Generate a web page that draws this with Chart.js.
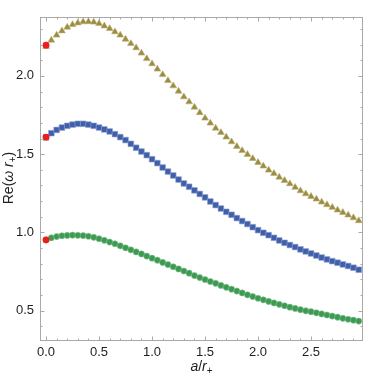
<!DOCTYPE html>
<html>
<head>
<meta charset="utf-8">
<script src="https://cdn.jsdelivr.net/npm/chart.js@4"></script>
<style>
  html, body { margin: 0; padding: 0; background: #fff; }
  #wrap { width: 382px; height: 377px; }
</style>
</head>
<body>
<div id="wrap"><canvas id="qnmChart" width="382" height="377"></canvas></div>
<script>
// a/r+ values of the sampled points
const aValues = [
  0.00, 0.05, 0.10, 0.15, 0.20, 0.25, 0.30, 0.35, 0.40, 0.45,
  0.50, 0.55, 0.60, 0.65, 0.70, 0.75, 0.80, 0.85, 0.90, 0.95,
  1.00, 1.05, 1.10, 1.15, 1.20, 1.25, 1.30, 1.35, 1.40, 1.45,
  1.50, 1.55, 1.60, 1.65, 1.70, 1.75, 1.80, 1.85, 1.90, 1.95,
  2.00, 2.05, 2.10, 2.15, 2.20, 2.25, 2.30, 2.35, 2.40, 2.45,
  2.50, 2.55, 2.60, 2.65, 2.70, 2.75, 2.80, 2.85, 2.90, 2.95
];

// Re(omega r+) for each branch
const triangleValues = [
  2.188, 2.228, 2.260, 2.287, 2.311, 2.327, 2.338, 2.345, 2.346, 2.343,
  2.334, 2.319, 2.302, 2.281, 2.260, 2.234, 2.206, 2.179, 2.145, 2.110,
  2.077, 2.043, 2.008, 1.970, 1.936, 1.902, 1.866, 1.834, 1.800, 1.765,
  1.730, 1.698, 1.666, 1.638, 1.609, 1.579, 1.549, 1.523, 1.498, 1.472,
  1.447, 1.424, 1.398, 1.377, 1.353, 1.332, 1.311, 1.288, 1.266, 1.247,
  1.230, 1.213, 1.194, 1.177, 1.160, 1.143, 1.128, 1.111, 1.094, 1.075
];
const squareValues = [
  1.607, 1.634, 1.655, 1.670, 1.681, 1.689, 1.694, 1.694, 1.689, 1.681,
  1.670, 1.658, 1.645, 1.628, 1.609, 1.590, 1.566, 1.541, 1.517, 1.494,
  1.468, 1.443, 1.415, 1.389, 1.364, 1.338, 1.313, 1.292, 1.269, 1.246,
  1.224, 1.198, 1.175, 1.153, 1.132, 1.113, 1.092, 1.073, 1.054, 1.034,
  1.015, 0.998, 0.983, 0.966, 0.949, 0.934, 0.920, 0.907, 0.892, 0.879,
  0.866, 0.853, 0.840, 0.828, 0.817, 0.807, 0.796, 0.786, 0.775, 0.762
];
const circleValues = [
  0.952, 0.966, 0.974, 0.979, 0.981, 0.983, 0.982, 0.980, 0.976, 0.969,
  0.960, 0.950, 0.939, 0.928, 0.915, 0.902, 0.889, 0.876, 0.863, 0.849,
  0.836, 0.823, 0.809, 0.795, 0.781, 0.767, 0.754, 0.740, 0.725, 0.712,
  0.699, 0.687, 0.675, 0.662, 0.650, 0.638, 0.626, 0.614, 0.602, 0.591,
  0.580, 0.570, 0.560, 0.550, 0.541, 0.532, 0.523, 0.515, 0.507, 0.500,
  0.494, 0.487, 0.480, 0.473, 0.466, 0.459, 0.452, 0.446, 0.440, 0.434
];

// static (a = 0) values, red dots
const staticA = [0, 0, 0];
const staticValues = [2.196, 1.609, 0.953];

// ticks
const xTicks = [0, 0.5, 1.0, 1.5, 2.0, 2.5];
const xMinorTicks = [0.1, 0.2, 0.3, 0.4, 0.6, 0.7, 0.8, 0.9, 1.1, 1.2, 1.3, 1.4,
  1.6, 1.7, 1.8, 1.9, 2.1, 2.2, 2.3, 2.4, 2.6, 2.7, 2.8, 2.9];
const yTicks = [0.5, 1.0, 1.5, 2.0];
const yMinorTicks = [0.4, 0.6, 0.7, 0.8, 0.9, 1.1, 1.2, 1.3, 1.4,
  1.6, 1.7, 1.8, 1.9, 2.1, 2.2, 2.3];

const toPoints = (xs, ys) => ys.map((v, i) => ({ x: xs[i], y: v }));

const FONT = '"Liberation Sans", Arial, sans-serif';

// draws the Mathematica-like frame with inward ticks on all four sides
const frameTicks = {
  id: 'frameTicks',
  beforeDatasetsDraw(chart) {
    const { ctx, chartArea, scales } = chart;
    const { left, right, top, bottom } = chartArea;
    ctx.save();
    ctx.strokeStyle = '#a9a9a9';
    ctx.lineWidth = 1;
    ctx.strokeRect(left + 0.5, top + 0.5, right - left - 1, bottom - top - 1);

    const xTick = (v, len) => {
      const px = Math.round(scales.x.getPixelForValue(v)) + 0.5;
      ctx.beginPath();
      ctx.moveTo(px, bottom); ctx.lineTo(px, bottom - len);
      ctx.moveTo(px, top); ctx.lineTo(px, top + len);
      ctx.stroke();
    };
    const yTick = (v, len) => {
      const py = Math.round(scales.y.getPixelForValue(v)) + 0.5;
      ctx.beginPath();
      ctx.moveTo(left, py); ctx.lineTo(left + len, py);
      ctx.moveTo(right, py); ctx.lineTo(right - len, py);
      ctx.stroke();
    };
    xTicks.forEach(v => xTick(v, 4.5));
    xMinorTicks.forEach(v => xTick(v, 2.5));
    yTicks.forEach(v => yTick(v, 4.5));
    yMinorTicks.forEach(v => yTick(v, 2.5));
    ctx.restore();
  },
  afterDraw(chart) {
    const { ctx, chartArea } = chart;
    const drawParts = (parts, cx, cy, rotate) => {
      ctx.save();
      ctx.translate(cx, cy);
      if (rotate) ctx.rotate(-Math.PI / 2);
      ctx.fillStyle = '#1e1e1e';
      ctx.textBaseline = 'alphabetic';
      let total = 0;
      parts.forEach(p => {
        ctx.font = `${p.italic ? 'italic ' : ''}${p.size}px ${FONT}`;
        p.w = ctx.measureText(p.text).width;
        total += p.w;
      });
      let cur = -total / 2;
      parts.forEach(p => {
        ctx.font = `${p.italic ? 'italic ' : ''}${p.size}px ${FONT}`;
        ctx.fillText(p.text, cur, 5 + (p.dy || 0));
        cur += p.w;
      });
      ctx.restore();
    };
    drawParts([
      { text: 'Re(', size: 14 },
      { text: 'ω', size: 14, italic: true },
      { text: ' ', size: 14 },
      { text: 'r', size: 14, italic: true },
      { text: '+', size: 10, dy: 3 },
      { text: ')', size: 14 }
    ], 8, 178, true);
    drawParts([
      { text: 'a', size: 14, italic: true },
      { text: '/', size: 14 },
      { text: 'r', size: 14, italic: true },
      { text: '+', size: 10, dy: 3 }
    ], (chartArea.left + chartArea.right) / 2, 366, false);
  }
};

new Chart(document.getElementById('qnmChart'), {
  type: 'scatter',
  data: {
    datasets: [
      {
        label: 'a = 0',
        data: toPoints(staticA, staticValues),
        pointStyle: 'circle',
        pointRadius: 3.4,
        backgroundColor: '#ee1c1c',
        borderWidth: 0
      },
      {
        label: 'branch 3',
        data: toPoints(aValues, triangleValues),
        pointStyle: 'triangle',
        pointRadius: 3.9,
        backgroundColor: '#9c8c40',
        borderColor: '#b9ad74',
        borderWidth: 0.6
      },
      {
        label: 'branch 2',
        data: toPoints(aValues, squareValues),
        pointStyle: 'rect',
        pointRadius: 4,
        backgroundColor: '#3f5faa',
        borderColor: '#8ea0cf',
        borderWidth: 0.6
      },
      {
        label: 'branch 1',
        data: toPoints(aValues, circleValues),
        pointStyle: 'circle',
        pointRadius: 3.1,
        backgroundColor: '#3c9a52',
        borderColor: '#86c293',
        borderWidth: 0.6
      }
    ]
  },
  options: {
    responsive: false,
    animation: false,
    clip: false,
    layout: { padding: { top: 17, right: 19, left: 0, bottom: 0 } },
    plugins: {
      legend: { display: false },
      tooltip: { enabled: false }
    },
    scales: {
      x: {
        type: 'linear',
        min: -0.057,
        max: 2.99,
        afterBuildTicks: s => { s.ticks = xTicks.map(v => ({ value: v })); },
        afterFit: s => { s.height = 36; },
        grid: { display: false, drawTicks: false },
        border: { display: false },
        ticks: {
          padding: 4,
          color: '#1e1e1e',
          font: { family: FONT, size: 13 },
          maxRotation: 0,
          callback: v => v.toFixed(1)
        }
      },
      y: {
        type: 'linear',
        min: 0.307,
        max: 2.376,
        afterBuildTicks: s => { s.ticks = yTicks.map(v => ({ value: v })); },
        afterFit: s => { s.width = 40; },
        grid: { display: false, drawTicks: false },
        border: { display: false },
        ticks: {
          padding: 6,
          color: '#1e1e1e',
          font: { family: FONT, size: 13 },
          callback: v => v.toFixed(1)
        }
      }
    }
  },
  plugins: [frameTicks]
});
</script>
</body>
</html>
